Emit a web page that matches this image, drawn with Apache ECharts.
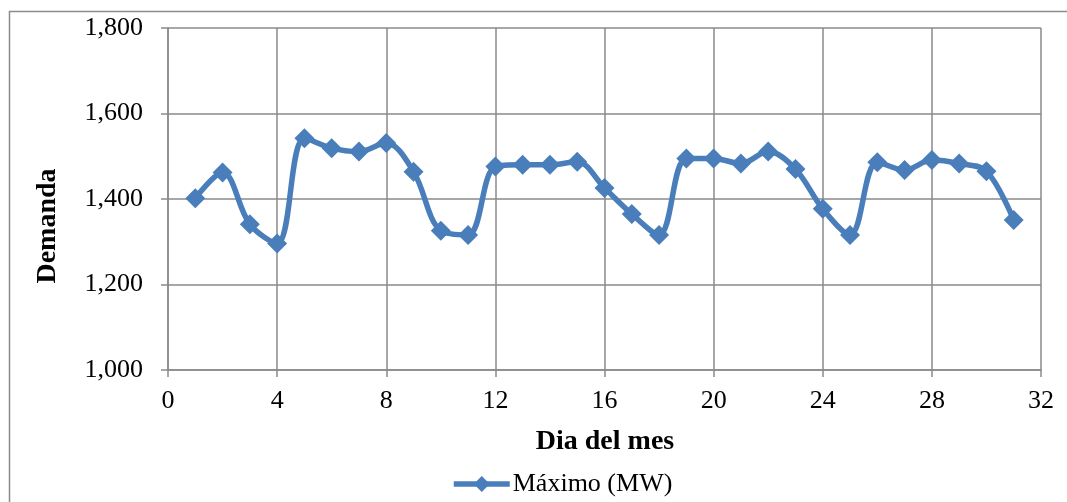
<!DOCTYPE html>
<html>
<head>
<meta charset="utf-8">
<script src="https://cdn.jsdelivr.net/npm/echarts@6/dist/echarts.min.js"></script>
<style>
  html, body { margin: 0; padding: 0; background: #ffffff; }
  #chart { width: 1067px; height: 502px; }
</style>
</head>
<body>
<div id="chart"></div>
<script>
// Daily maximum demand over one month
const days = [1,2,3,4,5,6,7,8,9,10,11,12,13,14,15,16,17,18,19,20,21,22,23,24,25,26,27,28,29,30,31];
const maxDemand = [1402,1462,1341,1296,1542,1519,1511,1531,1464,1326,1316,1476,1480,1480,1487,1426,1365,1316,1495,1495,1483,1511,1470,1377,1316,1486,1468,1491,1483,1465,1351];
const seriesName = 'Máximo (MW)';
const xTitle = 'Dia del mes';
const yTitle = 'Demanda';

const FONT = '"Liberation Serif", serif';
const GRID_COLOR = '#8a8a8a';
const LINE_COLOR = '#4a7ebb';

const chart = echarts.init(document.getElementById('chart'), null, { renderer: 'canvas' });

chart.setOption({
  animation: false,
  backgroundColor: '#ffffff',
  textStyle: { fontFamily: FONT },
  graphic: [
    {
      type: 'rect',
      shape: { x: 9.5, y: 11.5, width: 1080, height: 520 },
      style: { fill: 'none', stroke: '#8c8c8c', lineWidth: 1.5 },
      silent: true
    },
    {
      type: 'text',
      x: 48, y: 226,
      rotation: Math.PI / 2,
      style: {
        text: yTitle, fontFamily: FONT, fontSize: 28, fontWeight: 'bold',
        fill: '#000', align: 'center', verticalAlign: 'middle'
      }
    },
    {
      type: 'text',
      x: 605, y: 442,
      style: {
        text: xTitle, fontFamily: FONT, fontSize: 28, fontWeight: 'bold',
        fill: '#000', align: 'center', verticalAlign: 'middle'
      }
    }
  ],
  grid: { left: 168, right: 26, top: 28, bottom: 132, containLabel: false },
  legend: {
    left: 446, top: 466,
    itemWidth: 56, itemHeight: 20, itemGap: 10,
    lineStyle: { width: 5.5, color: LINE_COLOR },
    textStyle: { fontFamily: FONT, fontSize: 26, color: '#000', padding: [0, 0, 0, -2] },
    data: [seriesName]
  },
  xAxis: {
    type: 'value', min: 0, max: 32, interval: 4,
    axisLine: { show: true, lineStyle: { color: GRID_COLOR, width: 1.5 } },
    axisTick: { show: true, inside: false, length: 7, lineStyle: { color: GRID_COLOR, width: 1.5 } },
    axisLabel: { margin: 18, fontFamily: FONT, fontSize: 26, color: '#000' },
    splitLine: { show: true, lineStyle: { color: GRID_COLOR, width: 1.5 } }
  },
  yAxis: {
    type: 'value', min: 1000, max: 1800, interval: 200,
    axisLine: { show: true, lineStyle: { color: GRID_COLOR, width: 1.5 } },
    axisTick: { show: true, inside: false, length: 7, lineStyle: { color: GRID_COLOR, width: 1.5 } },
    axisLabel: {
      margin: 25, fontFamily: FONT, fontSize: 26, color: '#000',
      formatter: v => v.toLocaleString('en-US')
    },
    splitLine: { show: true, lineStyle: { color: GRID_COLOR, width: 1.5 } }
  },
  series: [{
    name: seriesName,
    type: 'line',
    smooth: 0.35,
    data: days.map((d, i) => [d, maxDemand[i]]),
    symbol: 'diamond',
    symbolSize: 20,
    itemStyle: { color: LINE_COLOR },
    lineStyle: { color: LINE_COLOR, width: 5.5 }
  }]
});
</script>
</body>
</html>
